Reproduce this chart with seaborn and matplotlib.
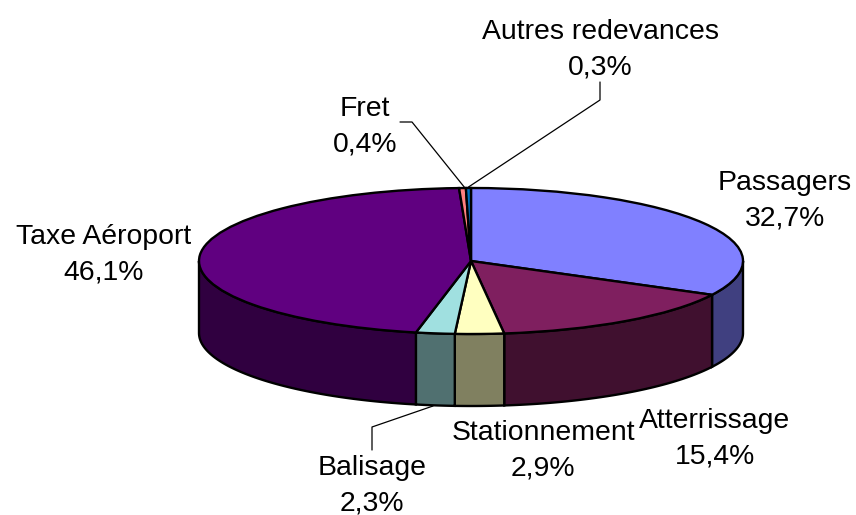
import matplotlib.pyplot as plt
import numpy as np
import seaborn as sns

labels = ["Passagers", "Atterrissage", "Stationnement", "Balisage", "Taxe Aéroport", "Fret", "Autres redevances"]
values = [32.7, 15.4, 2.9, 2.3, 46.1, 0.4, 0.3]
value_labels = ["32,7%", "15,4%", "2,9%", "2,3%", "46,1%", "0,4%", "0,3%"]
top_colors = ["#8080FF", "#7F1F5F", "#FFFFC0", "#A0E0E0", "#600080", "#FF8080", "#0070C0"]
side_colors = ["#404080", "#40102F", "#808060", "#507070", "#300040", "#804040", "#003860"]

W, H = 856, 515
CX, CY, RX, RY, DEPTH = 471, 261, 272, 73, 72


def px(x, y):
    return (x - CX) / RX, (CY - y) / RY


sns.set_theme(style="white")
plt.rcParams["font.family"] = ["Liberation Sans", "DejaVu Sans"]

fig = plt.figure(figsize=(W / 100, H / 100), dpi=100)
ax = fig.add_axes([0, 0, 1, 1])

ax.pie(values, colors=top_colors, startangle=90, counterclock=False, radius=1,
       wedgeprops={"edgecolor": "black", "linewidth": 1.7, "zorder": 5})
ax.set_xlim(px(0, 0)[0], px(W, 0)[0])
ax.set_ylim(px(0, H)[1], px(0, 0)[1])
ax.set_aspect("auto")
ax.axis("off")

# side wall, only the front half of the ellipse shows
d = DEPTH / RY
edges = np.concatenate([[0], np.cumsum(values)]) / sum(values) * 360
for a, b, c in zip(edges[:-1], edges[1:], side_colors):
    lo, hi = max(a, 90), min(b, 270)
    if lo >= hi:
        continue
    t = np.radians(np.linspace(lo, hi, 80))
    x = np.sin(t)
    y = np.cos(t)
    ax.fill(np.r_[x, x[::-1]], np.r_[y, y[::-1] - d], facecolor=c, edgecolor="black", linewidth=1.7, zorder=3)

# labels, pixel centres
label_pos = [(785, 201), (715, 439), (543, 451), (372, 486), (104, 255), (365, 127), (600, 50)]
for name, val, (lx, ly) in zip(labels, value_labels, label_pos):
    tx, ty = px(lx, ly)
    ax.text(tx, ty, f"{name}\n{val}", ha="center", va="center", fontsize=20.4, color="black",
            linespacing=1.47, zorder=6)

leaders = [
    [(465, 188), (412, 122), (400, 122)],
    [(467, 188), (600, 100), (600, 82)],
    [(433, 406), (372, 427), (372, 450)],
]
for line in leaders:
    pts = np.array([px(*p) for p in line])
    ax.plot(pts[:, 0], pts[:, 1], color="black", linewidth=0.9, zorder=6)

fig.savefig("out.png", dpi=100)
